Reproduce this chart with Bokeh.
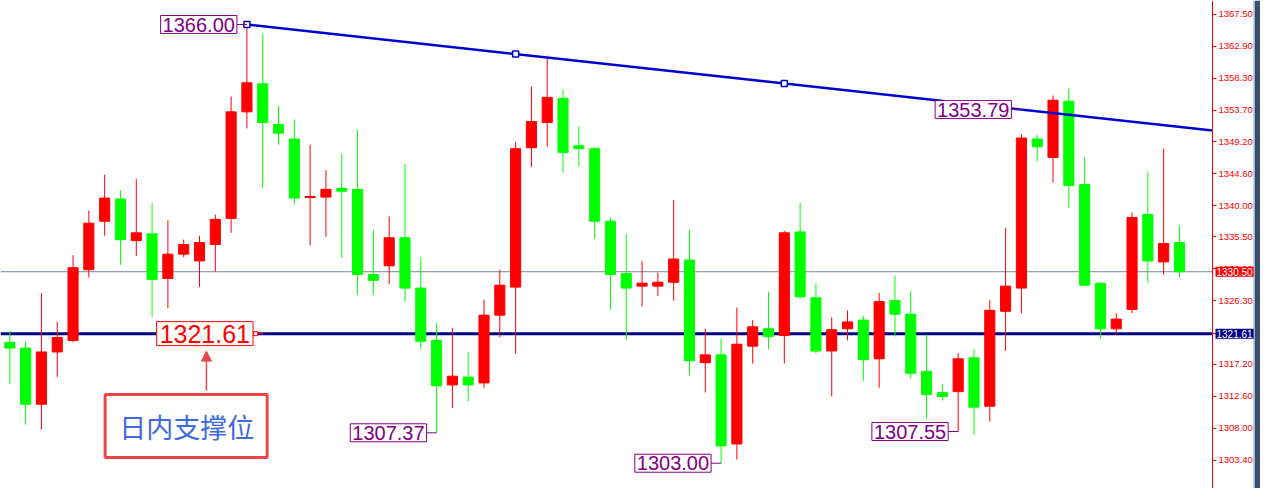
from bokeh.plotting import figure
from bokeh.models import (Label, FixedTicker, PrintfTickFormatter, Range1d, LinearAxis,
                          ColumnDataSource, BoxAnnotation, Arrow, NormalHead)
from bokeh.embed import file_html
from bokeh.resources import INLINE

# ---------------- data ----------------
candle_open = [1320.37, 1319.53, 1311.47, 1318.98, 1320.64, 1330.79, 1337.75, 1340.94, 1334.97, 1335.94,
               1329.54, 1333.02, 1332.05, 1334.41, 1338.16, 1353.46, 1357.49, 1351.65, 1349.56, 1341.15,
               1341.22, 1342.47, 1342.33, 1330.10, 1331.35, 1335.38, 1328.15, 1320.64, 1314.25, 1315.36,
               1314.53, 1324.26, 1328.29, 1348.31, 1351.93, 1355.40, 1348.59, 1348.17, 1337.75, 1330.24,
               1328.43, 1328.43, 1328.99, 1332.18, 1317.45, 1318.56, 1305.77, 1319.81, 1322.31, 1321.34,
               1336.22, 1326.76, 1319.12, 1322.31, 1323.56, 1318.00, 1326.35, 1324.40, 1316.19, 1313.14,
               1313.28, 1318.14, 1311.19, 1324.82, 1328.15, 1349.56, 1346.92, 1354.99, 1343.03, 1328.85,
               1322.31, 1325.09, 1338.72, 1331.91, 1334.69]
candle_high = [1322.03, 1320.51, 1327.46, 1323.29, 1332.88, 1339.28, 1344.42, 1342.20, 1343.86, 1340.39,
               1337.89, 1335.10, 1335.66, 1338.72, 1355.68, 1366.00, 1364.72, 1354.29, 1352.35, 1348.73,
               1345.11, 1347.48, 1350.96, 1336.50, 1338.44, 1345.95, 1332.60, 1323.15, 1322.45, 1318.98,
               1326.48, 1330.79, 1349.15, 1357.07, 1361.52, 1356.66, 1351.37, 1348.45, 1338.30, 1335.94,
               1332.05, 1330.38, 1340.81, 1336.50, 1322.31, 1320.92, 1325.37, 1323.56, 1327.60, 1336.36,
               1340.39, 1328.85, 1323.98, 1324.95, 1324.12, 1327.46, 1329.96, 1327.74, 1321.48, 1314.39,
               1318.84, 1319.39, 1326.48, 1336.77, 1350.26, 1350.12, 1355.82, 1356.79, 1346.92, 1328.99,
               1324.54, 1339.00, 1344.84, 1348.17, 1337.19]
candle_low = [1314.39, 1308.55, 1307.85, 1315.36, 1320.37, 1329.68, 1335.66, 1331.49, 1332.74, 1323.98,
              1325.23, 1332.60, 1328.29, 1330.52, 1336.08, 1351.09, 1342.47, 1348.73, 1340.11, 1334.27,
              1335.52, 1332.46, 1327.18, 1327.18, 1328.71, 1326.21, 1319.39, 1307.37, 1310.91, 1311.88,
              1313.83, 1321.06, 1318.70, 1345.53, 1348.45, 1344.70, 1345.67, 1335.24, 1325.09, 1320.64,
              1325.51, 1327.04, 1326.35, 1315.64, 1313.14, 1303.00, 1303.54, 1317.31, 1319.39, 1317.31,
              1326.62, 1318.84, 1312.58, 1320.64, 1314.80, 1313.83, 1321.20, 1315.22, 1309.38, 1312.02,
              1307.55, 1307.10, 1308.97, 1319.12, 1324.54, 1346.37, 1343.31, 1339.69, 1328.43, 1320.92,
              1321.50, 1324.54, 1328.85, 1330.10, 1329.68]
candle_close = [1319.53, 1311.47, 1318.98, 1321.06, 1331.07, 1337.47, 1341.08, 1335.10, 1336.08, 1329.40,
                1333.02, 1334.41, 1334.69, 1338.02, 1353.46, 1357.63, 1351.93, 1350.40, 1341.08, 1341.30,
                1342.33, 1342.06, 1330.10, 1329.26, 1335.38, 1328.15, 1320.51, 1314.11, 1315.50, 1314.25,
                1324.26, 1328.57, 1348.17, 1352.07, 1355.54, 1347.62, 1348.17, 1337.75, 1330.10, 1328.15,
                1328.85, 1328.99, 1332.32, 1317.72, 1318.56, 1305.49, 1320.09, 1322.59, 1321.20, 1336.08,
                1326.90, 1319.12, 1322.17, 1323.29, 1317.86, 1326.21, 1324.40, 1315.92, 1312.86, 1312.58,
                1318.00, 1311.05, 1324.95, 1328.43, 1349.70, 1348.45, 1355.13, 1342.89, 1328.57, 1322.31,
                1323.70, 1338.30, 1332.05, 1334.55, 1330.50]

tick_values = [1303.40, 1308.00, 1312.60, 1317.20, 1321.70, 1326.30, 1330.90, 1335.50,
               1340.00, 1344.60, 1349.20, 1353.70, 1358.30, 1362.90, 1367.50]

support_level = 1321.61
bid_level = 1330.50

trend_x = [16, 50]
trend_y = [1366.00, 1357.53]

price_label_x = [16, 28, 46, 61, 65]
price_label_y = [1366.00, 1307.37, 1303.00, 1307.55, 1353.79]

annotation_text = "日内支撑位"

# ---------------- layout ----------------
X0, X_AXIS = 0.41, 77.09          # candle area ends at the price axis
Y0, Y1 = 1299.37, 1369.45
FW, FH = 1260, 488
CHART_W = 1212                    # pixels of candle area
px_per_x = CHART_W / (X_AXIS - X0)
X_END = X0 + FW / px_per_x

def px_to_x(px):
    return X0 + px / px_per_x

p = figure(frame_width=FW, frame_height=FH, output_backend="svg", toolbar_location=None,
           x_range=Range1d(X0, X_END), y_range=Range1d(Y0, Y1),
           x_axis_location=None, y_axis_location=None,
           min_border_left=0, min_border_top=0, min_border_bottom=0, min_border_right=0,
           background_fill_color="white", border_fill_color="white", outline_line_color=None)
p.grid.visible = False

# window edge on the far right
p.add_layout(BoxAnnotation(left=px_to_x(1253), right=px_to_x(1254.5), fill_color="#8FB3DA",
                           fill_alpha=1.0, line_color=None))
p.add_layout(BoxAnnotation(left=px_to_x(1254.5), right=X_END, fill_color="#3E4E68",
                           fill_alpha=1.0, line_color=None))

# price axis (drawn at the end of the candle area)
ax = LinearAxis(fixed_location=X_AXIS)
ax.ticker = FixedTicker(ticks=tick_values)
ax.formatter = PrintfTickFormatter(format="%.2f")
ax.axis_line_color = "#FF0000"
ax.axis_line_width = 1
ax.major_tick_line_color = "#FF0000"
ax.major_tick_out = 4
ax.major_tick_in = 0
ax.minor_tick_line_color = None
ax.major_label_text_color = "#FF0000"
ax.major_label_text_font = "Liberation Sans"
ax.major_label_text_font_size = "9.5px"
ax.major_label_standoff = 2
p.add_layout(ax, "right")

# horizontal lines up to the axis
p.segment(x0=[X0, X0], y0=[bid_level, support_level], x1=[X_AXIS, X_AXIS],
          y1=[bid_level, support_level], line_color=["#778899", "#000080"], line_width=[1, 3])

# candles
xs = list(range(1, len(candle_open) + 1))
up = [c >= o for o, c in zip(candle_open, candle_close)]
colors = ["#FF0000" if u else "#00FF00" for u in up]
src = ColumnDataSource(dict(
    x=xs, high=candle_high, low=candle_low,
    top=[max(o, c) for o, c in zip(candle_open, candle_close)],
    bottom=[min(o, c) for o, c in zip(candle_open, candle_close)],
    color=colors))
p.segment(x0="x", y0="low", x1="x", y1="high", line_color="color", line_width=1, source=src)
p.vbar(x="x", width=0.64, top="top", bottom="bottom", fill_color="color",
       line_color="color", line_width=1, source=src)

# trend line (ray)
slope = (trend_y[1] - trend_y[0]) / (trend_x[1] - trend_x[0])
p.line([trend_x[0], X_AXIS], [trend_y[0], trend_y[0] + slope * (X_AXIS - trend_x[0])],
       line_color="#0000CD", line_width=2.5)
mid_x = (trend_x[0] + trend_x[1]) / 2
mk_x = [trend_x[0], mid_x, trend_x[1]]
mk_y = [trend_y[0] + slope * (x - trend_x[0]) for x in mk_x]
p.scatter(mk_x, mk_y, marker="square", size=6, fill_color="white",
          line_color="#0000CD", line_width=1.5)

# price labels (purple)
conn = 10 / px_per_x
for lx, ly in zip(price_label_x, price_label_y):
    p.segment(x0=[lx - conn], y0=[ly], x1=[lx], y1=[ly], line_color="#800080", line_width=1)
    p.add_layout(Label(x=lx, y=ly, x_offset=-10, text=f"{ly:.2f}", text_align="right",
                       text_baseline="middle", text_color="#800080",
                       text_font="Liberation Sans", text_font_size="20px",
                       background_fill_color="white", border_line_color="#800080",
                       border_line_width=1, padding=2))

# support level label (red)
sup_x = 16.45
p.add_layout(Label(x=sup_x, y=support_level, x_offset=-1, text=f"{support_level:.2f}",
                   text_align="right", text_baseline="middle", text_color="#FF0000",
                   text_font="Liberation Sans", text_font_size="25px",
                   background_fill_color="white", border_line_color="#FF0000",
                   border_line_width=1, padding=3))
p.segment(x0=[sup_x], y0=[support_level], x1=[sup_x + 0.6], y1=[support_level],
          line_color="#FF0000", line_width=1)
p.scatter([sup_x + 0.1], [support_level], marker="square", size=4, fill_color="white",
          line_color="#FF0000", line_width=1)

# arrow
p.add_layout(Arrow(end=NormalHead(size=10, fill_color="#E84848", line_color="#E84848"),
                   x_start=13.44, y_start=1313.4, x_end=13.44, y_end=1319.1,
                   line_color="#E84848", line_width=1.5))

# annotation box
p.add_layout(BoxAnnotation(left=7.03, right=17.28, top=1312.86, bottom=1303.82,
                           fill_color="white", fill_alpha=1.0,
                           line_color="#F04545", line_width=3, line_alpha=1.0))
p.add_layout(Label(x=12.2, y=1308.3, text=annotation_text, text_align="center",
                   text_baseline="middle", text_color="#4169E1",
                   text_font="Noto Sans CJK SC", text_font_size="27px"))

# axis highlights
for lvl, bg in [(bid_level, "#FF0000"), (support_level, "#000080")]:
    p.add_layout(Label(x=X_AXIS, y=lvl, x_offset=3, text=f"{lvl:.2f}", text_align="left",
                       text_baseline="middle", text_color="white", text_font="Liberation Sans",
                       text_font_size="10px", background_fill_color=bg, padding=1))

open("out.html", "w").write(file_html(p, INLINE))
